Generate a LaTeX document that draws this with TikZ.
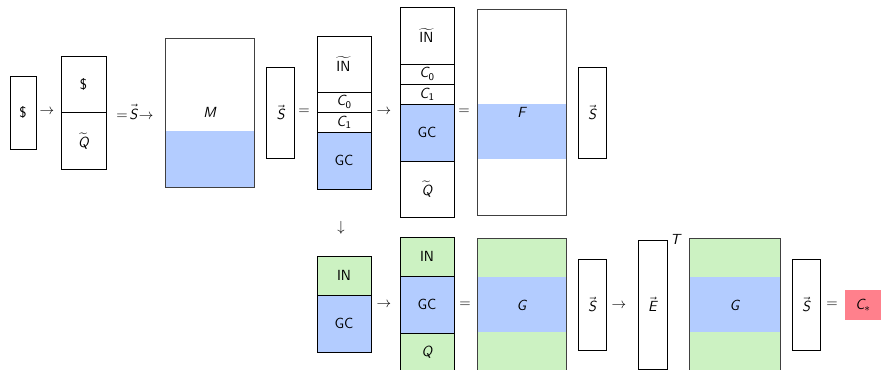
\documentclass[tikz,border=0pt]{standalone}
\usepackage{amsmath}
\usetikzlibrary{positioning}
\definecolor{gcblue}{RGB}{179,204,255}
\definecolor{ingreen}{RGB}{204,242,194}
\definecolor{starred}{RGB}{255,128,140}
% sans italic letters for the math symbols
\newcommand\mv[1]{\text{\sffamily\itshape #1}}
\newcommand\tIN{\widetilde{\text{IN}\kern1pt}}
\tikzset{
  cell/.style={draw, minimum width=40.5pt, outer sep=0pt, inner sep=0pt, line width=0.6pt},
  vecbox/.style={draw, minimum width=21pt, minimum height=68.25pt, outer sep=0pt, line width=0.6pt},
  bigbox/.style={draw=black!75, minimum width=66.75pt, outer sep=0pt, line width=0.6pt},
  sym/.style={inner sep=0pt},
}
\begin{document}
\begin{tikzpicture}[x=0.75pt, y=-0.75pt, font=\sffamily\fontsize{11}{13}\selectfont, node distance=0pt]
\useasboundingbox (0,0) rectangle (881,370);

% top row
\node[draw, line width=0.6pt, minimum width=19.5pt, minimum height=54.75pt] (dol) at (23,112.5) {\$};
\node[sym] (ar1) at (47,112) {$\rightarrow$};
\node[cell, minimum width=33.75pt, minimum height=42.4pt, anchor=north] (pq1) at (83.5,56) {\$};
\node[cell, minimum width=33.75pt, minimum height=42.4pt, below=of pq1] (pq2) {$\widetilde{\mv{Q}}$};
\node[sym] (eqs) at (135,112) {$=\!\vec{\mv{S}}\!\rightarrow$};

\fill[gcblue] (165,131) rectangle (254,187);
\node[bigbox, minimum height=111.75pt] (m) at (209.5,112.5) {$\mv{M}$};

\node[vecbox] (s1) at (280.5,112.5) {$\vec{\mv{S}}$};
\node[sym] (eq1) at (304,112) {$=$};

\node[cell, minimum height=42pt, anchor=north] (a1) at (344,36) {$\tIN$};
\node[cell, minimum height=15pt, below=of a1] (a2) {$\mv{C}_{\text{0}}$};
\node[cell, minimum height=15pt, below=of a2] (a3) {$\mv{C}_{\text{1}}$};
\node[cell, minimum height=42.75pt, fill=gcblue, below=of a3] (a4) {GC};
\node[sym] (ar2) at (384,112) {$\rightarrow$};

\node[cell, minimum height=42.75pt, anchor=north] (b1) at (427,7) {$\tIN$};
\node[cell, minimum height=15pt, below=of b1] (b2) {$\mv{C}_{\text{0}}$};
\node[cell, minimum height=15pt, below=of b2] (b3) {$\mv{C}_{\text{1}}$};
\node[cell, minimum height=42.75pt, fill=gcblue, below=of b3] (b4) {GC};
\node[cell, minimum height=42pt, below=of b4] (b5) {$\widetilde{\mv{Q}}$};
\node[sym] (eq2) at (464,112) {$=$};

\fill[gcblue] (477,104) rectangle (566,159);
\node[bigbox, minimum height=154.5pt] (f) at (521.5,112) {$\mv{F}$};
\node[vecbox] (s2) at (592,112.5) {$\vec{\mv{S}}$};

% bottom row
\node[sym] (dn) at (341,228) {$\downarrow$};

\node[cell, minimum height=29.25pt, fill=ingreen, anchor=north] (c1) at (344,256) {IN};
\node[cell, minimum height=42.75pt, fill=gcblue, below=of c1] (c2) {GC};
\node[sym] (ar3) at (384,305) {$\rightarrow$};

\node[cell, minimum height=29.25pt, fill=ingreen, anchor=north] (d1) at (427,237) {IN};
\node[cell, minimum height=42.75pt, fill=gcblue, below=of d1] (d2) {GC};
\node[cell, minimum height=29.25pt, fill=ingreen, below=of d2] (d3) {$\mv{Q}$};
\node[sym] (eq3) at (465,305) {$=$};

\fill[ingreen] (477,238) rectangle (566,372);
\fill[gcblue] (477,277) rectangle (566,332);
\node[bigbox, minimum height=100.5pt] (g1) at (521.5,305) {$\mv{G}$};

\node[vecbox] (s3) at (592,304.5) {$\vec{\mv{S}}$};
\node[sym] (ar4) at (619,306) {$\rightarrow$};

\node[draw, line width=0.6pt, minimum width=21.75pt, minimum height=96.75pt] (e) at (652.5,304.5) {$\vec{\mv{E}}$};
\node[anchor=west, inner sep=2pt] (t) at (e.north east) {$\mv{T}$};

\fill[ingreen] (689,238) rectangle (780,372);
\fill[gcblue] (689,277) rectangle (780,332);
\node[bigbox, minimum width=68.25pt, minimum height=100.5pt] (g2) at (734.5,305) {$\mv{G}$};

\node[vecbox] (s4) at (806,304.5) {$\vec{\mv{S}}$};
\node[sym] (eq4) at (832,305) {$=$};
\node[fill=starred, minimum width=27pt, minimum height=22.5pt, inner sep=0pt] (cstar) at (863,305) {$\mv{C}_*$};
\end{tikzpicture}
\end{document}
